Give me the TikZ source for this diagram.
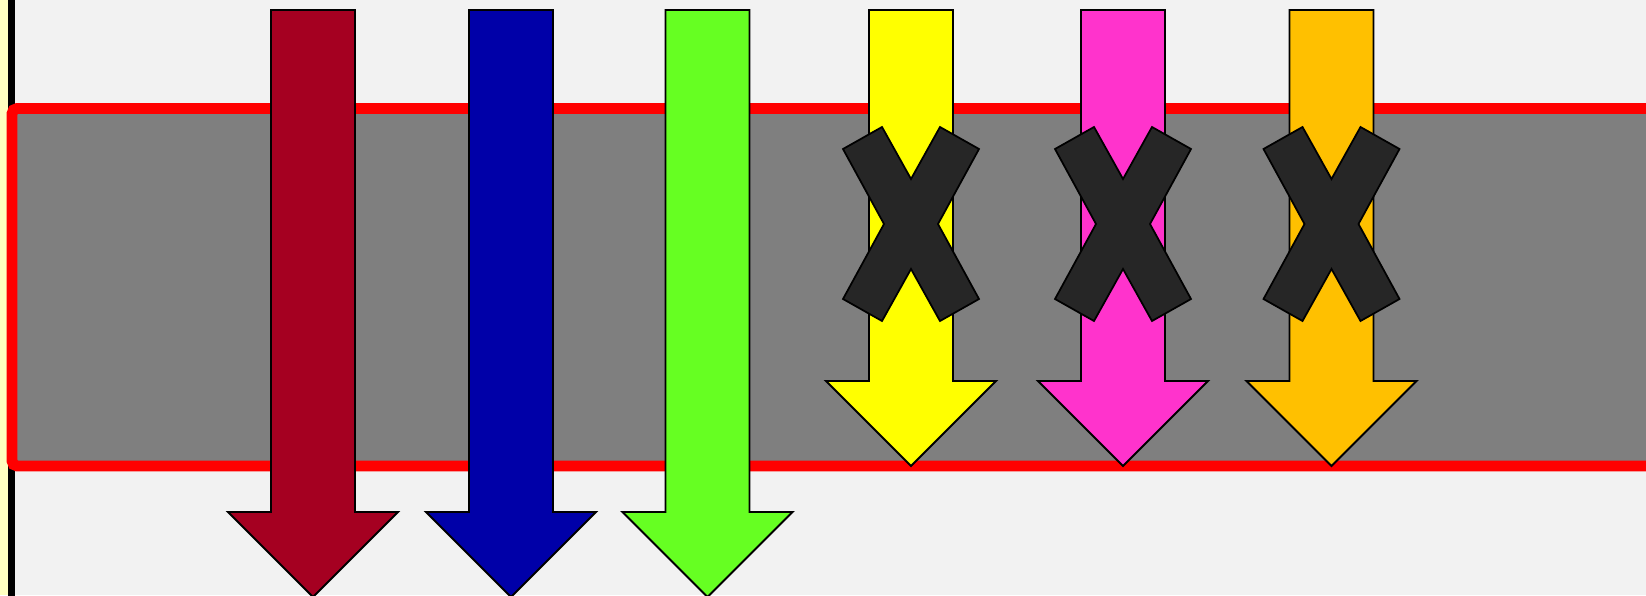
\documentclass[tikz,border=0pt]{standalone}
\definecolor{bggray}{HTML}{F2F2F2}
\definecolor{bandgray}{HTML}{7F7F7F}
\definecolor{paleyellow}{HTML}{FFFFC0}
\definecolor{arrred}{HTML}{A50021}
\definecolor{arrblue}{HTML}{0000A8}
\definecolor{arrgreen}{HTML}{66FF22}
\definecolor{arryellow}{HTML}{FFFF00}
\definecolor{arrmagenta}{HTML}{FF33CC}
\definecolor{arrorange}{HTML}{FFC000}
\definecolor{crossgray}{HTML}{262626}
\begin{document}
\begin{tikzpicture}[x=0.02cm,y=-0.02cm]
    \tikzstyle{band} = [draw=red, line width=6.2pt, fill=bandgray, rounded corners=3]
    \tikzstyle{bigarrow} = [draw=black, line width=1.1pt, line join=miter]
    \tikzstyle{cross} = [draw=black, line width=1pt, fill=crossgray, line join=miter]

    \useasboundingbox (0,0) rectangle (1646,595);
    \clip (0,0) rectangle (1646,595);
    \fill[bggray] (0,0) rectangle (1646,595);

    % left edge
    \fill[paleyellow] (0,0) rectangle (8,595);
    \draw[line width=4pt] (11.5,-5) -- (11.5,600);

    % grey band
    \path[band] (1700,108.5) -- (12,108.5) -- (12,466) -- (1700,466);

    % arrows
    \foreach \cx/\col/\base in {313/arrred/512, 511/arrblue/512, 707.5/arrgreen/512,
                                911/arryellow/381, 1123/arrmagenta/381, 1331.5/arrorange/381}
        \draw[bigarrow, fill=\col] ({\cx-42},10) -- ({\cx+42},10) -- ({\cx+42},\base)
            -- ({\cx+85},\base) -- (\cx,{\base+85}) -- ({\cx-85},\base) -- ({\cx-42},\base) -- cycle;

    % crosses
    \foreach \cx in {911,1123,1331.5}
        \draw[cross, shift={(\cx,224)}] (-68,-75) -- (-29,-97) -- (0,-45) -- (29,-97) -- (68,-75)
            -- (27,0) -- (68,75) -- (29,97) -- (0,45) -- (-29,97) -- (-68,75) -- (-27,0) -- cycle;
\end{tikzpicture}
\end{document}
